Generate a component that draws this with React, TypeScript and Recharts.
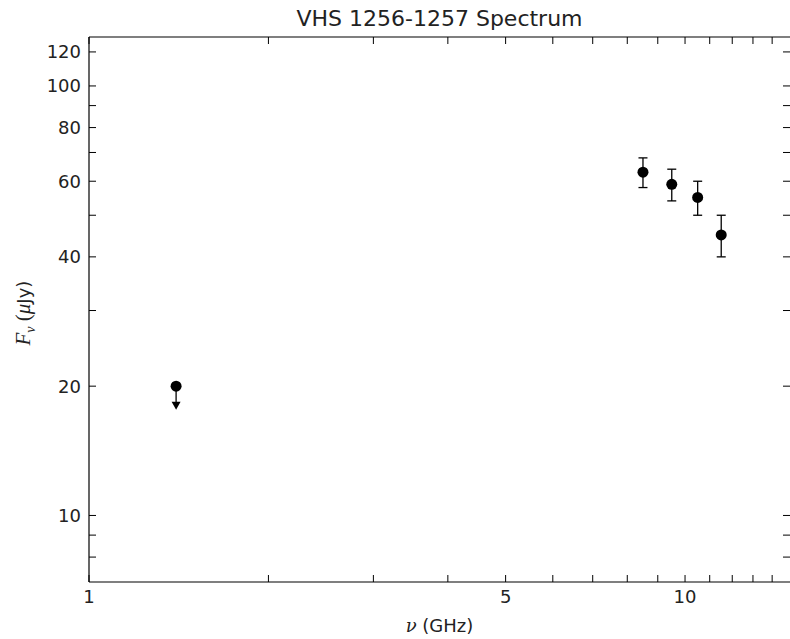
import React from 'react';
import { ScatterChart, Scatter, XAxis, YAxis, ErrorBar } from 'recharts';

// Detections (GHz, µJy) with symmetric 1-sigma errors
const freqGHz = [8.5, 9.5, 10.5, 11.5];
const fluxUJy = [63, 59, 55, 45];
const fluxErr = [5, 5, 5, 5];

// Upper limit at L band, arrow drawn down to limitFlux - limitDrop
const limitFreqGHz = [1.4];
const limitFluxUJy = [20];
const limitDrop = [2];

const xTicks = [1, 2, 3, 4, 5, 6, 7, 8, 9, 10, 11, 12, 13, 14];
const xTickLabels = [1, 5, 10];
const yTicks = [8, 9, 10, 20, 30, 40, 50, 60, 70, 80, 90, 100, 120];
const yTickLabels = [10, 20, 40, 60, 80, 100, 120];

const detections = freqGHz.map((nu, i) => ({ nu, flux: fluxUJy[i], err: fluxErr[i] }));
const limits = limitFreqGHz.map((nu, i) => ({ nu, flux: limitFluxUJy[i], err: [limitDrop[i], 0] }));
const limitTips = limitFreqGHz.map((nu, i) => ({ nu, flux: limitFluxUJy[i] - limitDrop[i] }));

const INK = '#000';
const TEXT = '#222';
const TICK_LEN = 7;
const FONT = '"DejaVu Sans", sans-serif';

const BottomTick = (props: any) => {
  const { x, y, payload } = props;
  const show = xTickLabels.includes(payload.value);
  return (
    <g>
      <line x1={x} y1={y} x2={x} y2={y - TICK_LEN} stroke={INK} strokeWidth={1} />
      {show && (
        <text x={x} y={y + 21} textAnchor="middle" fontSize={18} fontFamily={FONT} fill={TEXT}>
          {payload.value}
        </text>
      )}
    </g>
  );
};

const TopTick = (props: any) => {
  const { x, y } = props;
  return <line x1={x} y1={y} x2={x} y2={y + TICK_LEN} stroke={INK} strokeWidth={1} />;
};

const LeftTick = (props: any) => {
  const { x, y, payload } = props;
  const show = yTickLabels.includes(payload.value);
  return (
    <g>
      <line x1={x} y1={y} x2={x + TICK_LEN} y2={y} stroke={INK} strokeWidth={1} />
      {show && (
        <text x={x - 8} y={y} dy="0.36em" textAnchor="end" fontSize={18} fontFamily={FONT} fill={TEXT}>
          {payload.value}
        </text>
      )}
    </g>
  );
};

const RightTick = (props: any) => {
  const { x, y } = props;
  return <line x1={x} y1={y} x2={x - TICK_LEN} y2={y} stroke={INK} strokeWidth={1} />;
};

const Dot = (props: any) => <circle cx={props.cx} cy={props.cy} r={5.5} fill={INK} />;

const ArrowHead = (props: any) => {
  const { cx, cy } = props;
  return <path d={`M${cx - 4.5},${cy - 4} L${cx + 4.5},${cy - 4} L${cx},${cy + 4} Z`} fill={INK} />;
};

export default function App() {
  return (
    <div
      style={{
        position: 'absolute',
        left: 0,
        top: 0,
        width: 790,
        height: 639,
        overflow: 'hidden',
        background: '#fff',
      }}
    >
      <div
        style={{
          position: 'absolute',
          left: 89,
          top: 6,
          width: 701,
          lineHeight: '26px',
          textAlign: 'center',
          fontFamily: FONT,
          fontSize: 22,
          color: TEXT,
        }}
      >
        VHS 1256-1257 Spectrum
      </div>

      <ScatterChart width={792} height={639} margin={{ top: 0, right: 0, bottom: 0, left: 0 }}>
        <XAxis
          xAxisId="bottom"
          dataKey="nu"
          type="number"
          scale="log"
          domain={[1, 15]}
          allowDataOverflow
          ticks={xTicks}
          interval={0}
          tickSize={0}
          tickMargin={0}
          tick={<BottomTick />}
          height={57}
          axisLine={{ stroke: INK, strokeWidth: 1.2 }}
        />
        <XAxis
          xAxisId="top"
          orientation="top"
          dataKey="nu"
          type="number"
          scale="log"
          domain={[1, 15]}
          allowDataOverflow
          ticks={xTicks}
          interval={0}
          tickSize={0}
          tickMargin={0}
          tick={<TopTick />}
          height={37}
          axisLine={{ stroke: INK, strokeWidth: 1.2 }}
        />
        <YAxis
          yAxisId="left"
          dataKey="flux"
          type="number"
          scale="log"
          domain={[7, 130]}
          allowDataOverflow
          ticks={yTicks}
          interval={0}
          tickSize={0}
          tickMargin={0}
          tick={<LeftTick />}
          width={89}
          axisLine={{ stroke: INK, strokeWidth: 1.2 }}
        />
        <YAxis
          yAxisId="right"
          orientation="right"
          dataKey="flux"
          type="number"
          scale="log"
          domain={[7, 130]}
          allowDataOverflow
          ticks={yTicks}
          interval={0}
          tickSize={0}
          tickMargin={0}
          tick={<RightTick />}
          width={2}
          axisLine={false}
        />

        <Scatter
          xAxisId="bottom"
          yAxisId="left"
          data={detections}
          shape={<Dot />}
          isAnimationActive={false}
        >
          <ErrorBar dataKey="err" direction="y" width={4.5} stroke={INK} strokeWidth={1.3} />
        </Scatter>
        <Scatter
          xAxisId="bottom"
          yAxisId="left"
          data={limits}
          shape={<Dot />}
          isAnimationActive={false}
        >
          <ErrorBar dataKey="err" direction="y" width={0} stroke={INK} strokeWidth={1.3} />
        </Scatter>
        <Scatter
          xAxisId="bottom"
          yAxisId="left"
          data={limitTips}
          shape={<ArrowHead />}
          isAnimationActive={false}
        />
      </ScatterChart>

      <div
        style={{
          position: 'absolute',
          left: 89,
          top: 614,
          width: 701,
          lineHeight: '24px',
          textAlign: 'center',
          fontFamily: FONT,
          fontSize: 18,
          color: TEXT,
        }}
      >
        <span style={{ fontFamily: '"DejaVu Serif", serif', fontStyle: 'italic' }}>ν</span> (GHz)
      </div>

      <div
        style={{
          position: 'absolute',
          left: 27 - 150,
          top: 309 - 13,
          width: 300,
          lineHeight: '26px',
          textAlign: 'center',
          transform: 'rotate(-90deg)',
          fontFamily: '"Liberation Serif", serif',
          fontSize: 21,
          color: TEXT,
        }}
      >
        <span style={{ fontStyle: 'italic' }}>F</span>
        <sub style={{ fontStyle: 'italic', fontSize: 14 }}>ν</sub> (<span style={{ fontStyle: 'italic' }}>μ</span>
        <span style={{ fontFamily: FONT, fontSize: 18 }}>Jy)</span>
      </div>
    </div>
  );
}
